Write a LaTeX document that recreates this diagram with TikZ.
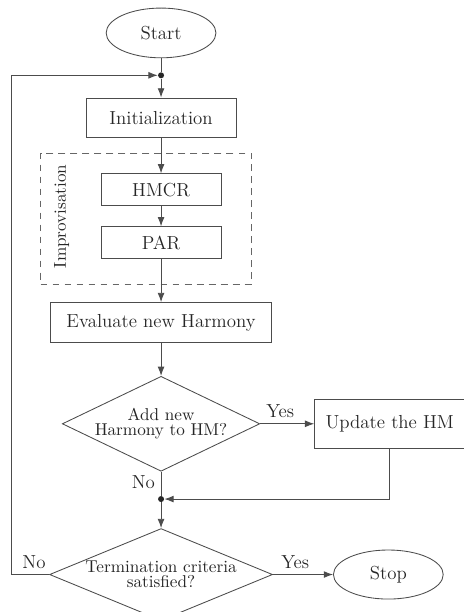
\documentclass[tikz,border=0pt]{standalone}
\usepackage{amsmath,amssymb}
\usetikzlibrary{
    arrows.meta,
    positioning,
    fit,
    calc,
    shapes.geometric
}

\begin{document}
\begin{tikzpicture}[
    font=\fontsize{11}{13}\selectfont,
    box/.style={
        rectangle,
        draw=black!70,
        line width=0.5pt,
        align=center,
        text=black!85,
        minimum height=23.3pt,
        minimum width=87.5pt
    },
    sub/.style={
        box,
        minimum height=18.7pt,
        minimum width=70pt
    },
    term/.style={
        ellipse,
        draw=black!70,
        line width=0.5pt,
        text=black!85,
        minimum height=29pt,
        minimum width=64pt
    },
    decision/.style={
        diamond,
        draw=black!70,
        line width=0.5pt,
        align=center,
        text=black!85,
        font=\fontsize{10}{9}\selectfont,
        inner sep=0pt
    },
    dot/.style={circle, fill=black!85, inner sep=0pt, minimum size=3.5pt},
    annot/.style={text=black!85},
    line/.style={line width=0.5pt, black!70},
    arrow/.style={-{Latex[length=5.4pt,width=4pt]}, line width=0.5pt, black!70}
]

% ===== MAIN COLUMN =====
\node[term] (start) {Start};
\useasboundingbox ($(start.center)+(-93.9pt,19.2pt)$) rectangle ($(start.center)+(176.1pt,-337.6pt)$);
\node[dot, below=8pt of start] (j1) {};
\node[box, below=11pt of j1] (init) {Initialization};
\node[sub, below=20.4pt of init] (hmcr) {HMCR};
\node[sub, below=11.7pt of hmcr] (par) {PAR};
\node[box, below=25pt of par, minimum width=129pt] (eval) {Evaluate new Harmony};
\node[decision, below=19.2pt of eval, minimum width=112.5pt, minimum height=54pt, aspect=2.08] (add) {Add new\\Harmony to HM?};
\node[box, right=31.5pt of add, minimum height=29pt] (upd) {Update the HM};
\node[dot, below=14pt of add] (j2) {};
\node[decision, below=15pt of j2, minimum width=130pt, minimum height=53.6pt, aspect=2.4] (stopq) {Termination criteria\\satisfied?};
\node[term, right=35pt of stopq, minimum height=28.6pt] (stop) {Stop};

% Improvisation block
\node[annot, rotate=90, font=\fontsize{10}{12}\selectfont] (improv) at ($(hmcr.west)!0.5!(par.west)+(-22.7pt,0)$) {Improvisation};
\coordinate (imp-nw) at ($(hmcr.north west)+(-35pt,11.7pt)$);
\coordinate (imp-se) at ($(par.south east)+(17.5pt,-14.6pt)$);
\node[draw=black!60, dash pattern=on 4pt off 3pt, line width=0.5pt, inner sep=0pt, fit=(imp-nw)(imp-se)] (improvbox) {};

% ===== CONNECTORS =====
\draw[line] (start) -- (j1);
\draw[arrow] (j1) -- (init);
\draw[arrow] (init) -- (hmcr);
\draw[arrow] (hmcr) -- (par);
\draw[arrow] (par) -- (eval);
\draw[arrow] (eval) -- (add);
\draw[arrow] (add) -- node[annot, above, pos=0.37]{Yes} (upd);
\draw[line] (add) -- node[annot, left, pos=0.45]{No} (j2);
\draw[arrow] (upd) |- (j2);
\draw[arrow] (j2) -- (stopq);
\draw[arrow] (stopq) -- node[annot, above, pos=0.37]{Yes} (stop);
\draw[arrow] (stopq.west) -- node[annot, above, pos=0.4]{No} ++(-22pt,0) |- (j1);

\end{tikzpicture}
\end{document}
